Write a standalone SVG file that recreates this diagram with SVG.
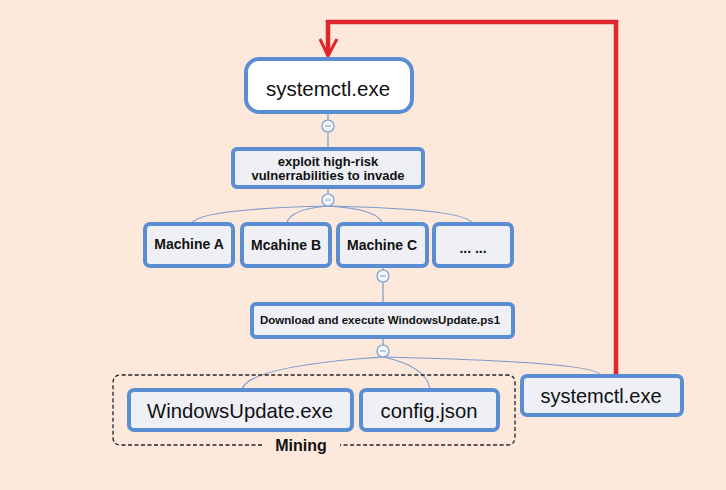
<svg xmlns="http://www.w3.org/2000/svg" width="726" height="490" viewBox="0 0 726 490">
  <style>
    .box{fill:#eef0f5;stroke:#5b8dd3;stroke-width:4}
    .wbox{fill:#ffffff;stroke:#5b8dd3;stroke-width:4}
    .conn{fill:none;stroke:#7b9ccb;stroke-width:1.2}
    .knob{fill:#f4f7fc;stroke:#7b9ccb;stroke-width:1.2}
    .knobbar{stroke:#7b9ccb;stroke-width:1}
    .t{font-family:"Liberation Sans",Arial,sans-serif;fill:#111;text-anchor:middle}
    .b{font-weight:bold}
  </style>
  <rect x="0" y="0" width="726" height="490" fill="#fde8dc"/>
  <rect x="0" y="0" width="3" height="490" fill="#f6ebe0"/>

  <g id="connectors">
    <line class="conn" x1="328" y1="113" x2="328" y2="148"/>
    <line class="conn" x1="328" y1="187" x2="328" y2="206"/>
    <path class="conn" d="M328,206 Q200,209 192,223"/>
    <path class="conn" d="M328,206 Q290,209 287,223"/>
    <path class="conn" d="M328,206 Q378,209 382,223"/>
    <path class="conn" d="M328,206 Q466,209 472,223"/>
    <line class="conn" x1="383" y1="267" x2="383" y2="303"/>
    <line class="conn" x1="383" y1="337" x2="383" y2="357"/>
    <path class="conn" d="M383,357 Q250,366 242,389"/>
    <path class="conn" d="M383,357 Q426,366 430,389"/>
    <path class="conn" d="M383,357 Q596,362 600,375"/>
    <circle class="knob" cx="328" cy="126" r="6"/>
    <line class="knobbar" x1="325" y1="126" x2="331" y2="126"/>
    <circle class="knob" cx="328" cy="200" r="6"/>
    <line class="knobbar" x1="325" y1="200" x2="331" y2="200"/>
    <circle class="knob" cx="383" cy="276" r="6"/>
    <line class="knobbar" x1="380" y1="276" x2="386" y2="276"/>
    <circle class="knob" cx="383" cy="351" r="6"/>
    <line class="knobbar" x1="380" y1="351" x2="386" y2="351"/>
    <path d="M616,375 V22 H328 V55" fill="none" stroke="#e0262b" stroke-width="4.5"/>
    <path d="M320,39 L328,56 L337,39" fill="none" stroke="#e0262b" stroke-width="3"/>
  </g>

  <g id="systemctl-top">
    <rect class="wbox" x="246" y="59" width="166" height="53" rx="13"/>
    <text class="t" x="328" y="96" font-size="20.5">systemctl.exe</text>
  </g>
  <g id="exploit">
    <rect class="box" x="233" y="149" width="190" height="38" rx="4"/>
    <text class="t b" x="328" y="166" font-size="13">exploit high-risk</text>
    <text class="t b" x="328" y="180" font-size="13">vulnerrabilities to invade</text>
  </g>
  <g id="machine-a">
    <rect class="box" x="145" y="224" width="88" height="42" rx="5"/>
    <text class="t b" x="189" y="249" font-size="14">Machine A</text>
  </g>
  <g id="machine-b">
    <rect class="box" x="242" y="224" width="88" height="42" rx="5"/>
    <text class="t b" x="286" y="250" font-size="14">Mcahine B</text>
  </g>
  <g id="machine-c">
    <rect class="box" x="338" y="224" width="89" height="42" rx="5"/>
    <text class="t b" x="382" y="250" font-size="14">Machine C</text>
  </g>
  <g id="machine-more">
    <rect class="box" x="434" y="224" width="78" height="42" rx="5"/>
    <text class="t b" x="473" y="253" font-size="14">... ...</text>
  </g>
  <g id="download">
    <rect class="box" x="252" y="304" width="261" height="33" rx="4"/>
    <text class="t b" x="380" y="324" font-size="11.5">Download and execute WindowsUpdate.ps1</text>
  </g>
  <g id="mining">
    <path d="M262,445 H121 Q113,445 113,437 V383 Q113,375 121,375 H507 Q515,375 515,383 V437 Q515,445 507,445 H340" fill="none" stroke="#222" stroke-width="1.3" stroke-dasharray="4,2.5"/>
    <text class="t b" x="301" y="451" font-size="16">Mining</text>
  </g>
  <g id="windowsupdate">
    <rect class="box" x="129" y="390" width="223" height="40" rx="5"/>
    <text class="t" x="240" y="418" font-size="20.3">WindowsUpdate.exe</text>
  </g>
  <g id="config">
    <rect class="box" x="361" y="390" width="137" height="40" rx="5"/>
    <text class="t" x="429" y="418" font-size="20.3">config.json</text>
  </g>
  <g id="systemctl-bottom">
    <rect class="box" x="522" y="376" width="160" height="39" rx="5"/>
    <text class="t" x="601" y="403" font-size="20">systemctl.exe</text>
  </g>
</svg>
